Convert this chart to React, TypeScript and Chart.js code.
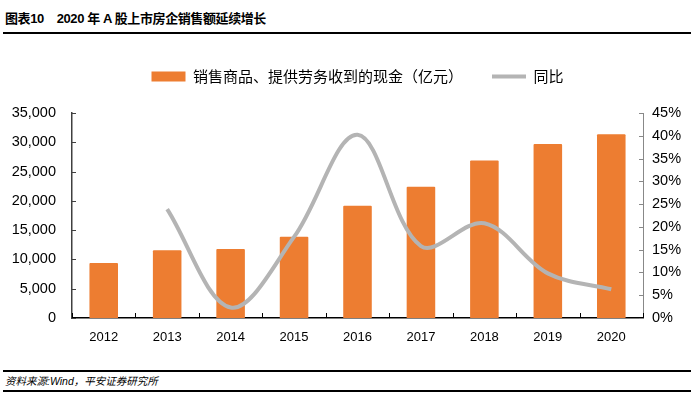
import React, { useEffect, useRef } from "react";
import { Chart, registerables } from "chart.js";

Chart.register(...registerables);

const years = ["2012", "2013", "2014", "2015", "2016", "2017", "2018", "2019", "2020"];
const salesCash = [9400, 11560, 11780, 13880, 19170, 22420, 26900, 29700, 31360];
const yoyPct = [null, 23.9, 2.3, 17.8, 40.2, 15.8, 20.8, 9.8, 6.3];
const leftTicks = [0, 5000, 10000, 15000, 20000, 25000, 30000, 35000];
const rightTicks = [0, 5, 10, 15, 20, 25, 30, 35, 40, 45];
const barLabel = "销售商品、提供劳务收到的现金（亿元）";
const lineLabel = "同比";

const ORANGE = "#ED7D31";
const GRAY = "#B4B4B4";
const TICK_FONT = '"Liberation Sans", Arial, sans-serif';

const innerTicks = {
  id: "innerTicks",
  afterDraw(chart: any) {
    const ctx = chart.ctx;
    const { left, right, bottom } = chart.chartArea;
    const y = chart.scales.y;
    const y1 = chart.scales.y1;
    const x = chart.scales.x;
    ctx.save();
    ctx.lineWidth = 1;
    ctx.strokeStyle = "#404040";
    leftTicks.forEach((v) => {
      const py = Math.round(y.getPixelForValue(v)) + 0.5;
      ctx.beginPath();
      ctx.moveTo(left, py);
      ctx.lineTo(left + 4, py);
      ctx.stroke();
    });
    ctx.strokeStyle = "#888888";
    rightTicks.forEach((v) => {
      const py = Math.round(y1.getPixelForValue(v)) + 0.5;
      ctx.beginPath();
      ctx.moveTo(right - 4, py);
      ctx.lineTo(right, py);
      ctx.stroke();
    });
    ctx.strokeStyle = "#000000";
    for (let i = 0; i <= years.length; i++) {
      const px = Math.round(x.getPixelForValue(i - 0.5)) + 0.5;
      ctx.beginPath();
      ctx.moveTo(px, bottom);
      ctx.lineTo(px, bottom - 5);
      ctx.stroke();
    }
    ctx.restore();
  },
};

const legendHeight = {
  id: "legendHeight",
  beforeInit(chart: any) {
    const legend = chart.legend;
    if (!legend) return;
    const fit = legend.fit;
    legend.fit = function () {
      fit.call(this);
      this.height = 73;
    };
  },
};

function SalesChart() {
  const ref = useRef<HTMLCanvasElement | null>(null);
  useEffect(() => {
    if (!ref.current) return;
    const chart = new Chart(ref.current, {
      type: "bar",
      data: {
        labels: years,
        datasets: [
          {
            type: "line",
            label: lineLabel,
            data: yoyPct as any,
            yAxisID: "y1",
            borderColor: GRAY,
            backgroundColor: GRAY,
            borderWidth: 4,
            pointRadius: 0,
            pointStyle: "line",
            tension: 0.35,
            spanGaps: false,
            borderCapStyle: "butt",
            order: 0,
          } as any,
          {
            type: "bar",
            label: barLabel,
            data: salesCash,
            yAxisID: "y",
            backgroundColor: ORANGE,
            borderColor: ORANGE,
            borderWidth: 0,
            pointStyle: "rect",
            categoryPercentage: 0.9,
            barPercentage: 0.5,
            borderRadius: 1,
            order: 1,
          } as any,
        ],
      },
      options: {
        animation: false,
        responsive: false,
        devicePixelRatio: 1,
        layout: { padding: { top: 0, bottom: 0, left: 0, right: 0 } },
        plugins: {
          tooltip: { enabled: false },
          legend: {
            position: "top",
            fullSize: false,
            reverse: true,
            labels: {
              usePointStyle: true,
              pointStyleWidth: 34,
              boxHeight: 10,
              padding: 29,
              color: "#000",
              font: { family: '"Noto Sans CJK SC", sans-serif', size: 15 },
            },
          },
        },
        scales: {
          x: {
            grid: { display: false, drawTicks: false, offset: true },
            border: { display: true, color: "#000", width: 1.5 },
            ticks: {
              color: "#000",
              padding: 12,
              font: { family: TICK_FONT, size: 13 },
            },
            afterFit(s: any) {
              s.height = 42;
            },
          },
          y: {
            position: "left",
            min: 0,
            max: 35000,
            grid: { display: false, drawTicks: false },
            border: { display: true, color: "#404040", width: 1.5 },
            ticks: {
              stepSize: 5000,
              color: "#000",
              padding: 16,
              font: { family: TICK_FONT, size: 14.5 },
              callback: (v: any) => Number(v).toLocaleString("en-US"),
            },
            afterFit(s: any) {
              s.width = 72;
            },
          },
          y1: {
            position: "right",
            min: 0,
            max: 45,
            grid: { display: false, drawTicks: false },
            border: { display: true, color: "#888888", width: 1 },
            ticks: {
              stepSize: 5,
              color: "#000",
              padding: 9,
              font: { family: TICK_FONT, size: 14.5 },
              callback: (v: any) => `${v}%`,
            },
            afterFit(s: any) {
              s.width = 52;
            },
          },
        },
      } as any,
      plugins: [innerTicks, legendHeight],
    });
    return () => chart.destroy();
  }, []);
  return <canvas ref={ref} width={695} height={320} style={{ display: "block" }} />;
}

export default function App() {
  return (
    <div
      style={{
        position: "absolute",
        left: 0,
        top: 0,
        width: 695,
        height: 396,
        background: "#fff",
        overflow: "hidden",
      }}
    >
      <div
        style={{
          position: "absolute",
          left: 5,
          top: 10,
          fontFamily: '"Liberation Sans", "Noto Sans CJK SC", sans-serif',
          fontWeight: "bold",
          fontSize: 13,
          letterSpacing: -0.4,
          lineHeight: "18px",
          color: "#000",
          whiteSpace: "pre",
        }}
      >
        {"图表10    2020 年 A 股上市房企销售额延续增长"}
      </div>
      <div style={{ position: "absolute", left: 3, top: 32, width: 688, height: 2, background: "#000" }} />
      <div style={{ position: "absolute", left: 0, top: 40, width: 695, height: 320 }}>
        <SalesChart />
      </div>
      <div style={{ position: "absolute", left: 3, top: 370, width: 688, height: 2, background: "#000" }} />
      <div
        style={{
          position: "absolute",
          left: 5,
          top: 374,
          fontFamily: '"Liberation Sans", "Noto Sans CJK SC", sans-serif',
          fontStyle: "italic",
          fontSize: 10.5,
          lineHeight: "14px",
          color: "#000",
          whiteSpace: "pre",
        }}
      >
        {"资料来源:Wind，平安证券研究所"}
      </div>
      <div style={{ position: "absolute", left: 3, top: 390, width: 688, height: 2, background: "#000" }} />
    </div>
  );
}
